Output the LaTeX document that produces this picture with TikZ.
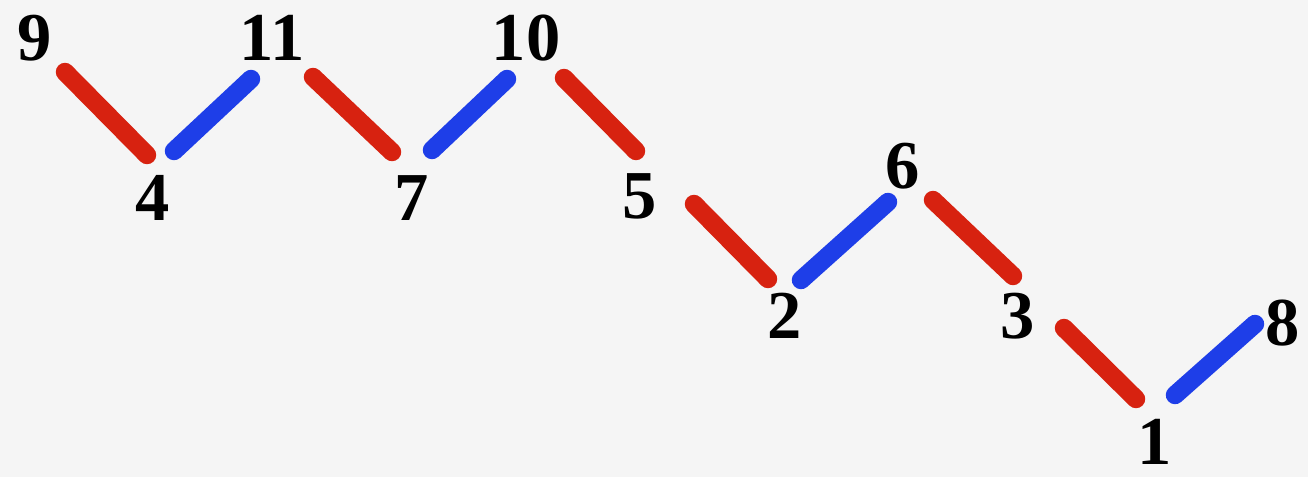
\documentclass[tikz,border=0pt]{standalone}
\usepackage{fontspec}
\setmainfont{Liberation Serif}
\usetikzlibrary{positioning}
\definecolor{BGgrey}{RGB}{245,245,245}
\definecolor{BARred}{RGB}{215,34,16}
\definecolor{BARblue}{RGB}{30,62,232}

\begin{document}
\begin{tikzpicture}[x=0.2mm,y=-0.2mm,
    num/.style={font=\fontsize{39}{40}\selectfont\bfseries,inner sep=0pt},
    redbar/.style={BARred,line width=10.5pt,line cap=round},
    bluebar/.style={BARblue,line width=10.5pt,line cap=round}]
    \fill[BGgrey] (0,0) rectangle (1308,477);
    % labels
    \node[num] (n9) at (35,38) {9};
    \node[num] (n4) at (153,198) {4};
    \node[num] (n11) at (272,38) {11};
    \node[num] (n7) at (412,198) {7};
    \node[num] (n10) at (526,38) {10};
    \node[num] (n5) at (640,196) {5};
    \node[num] (n2) at (785,316) {2};
    \node[num] (n6) at (903,166) {6};
    \node[num] (n3) at (1018,316) {3};
    \node[num] (n1) at (1155,442) {1};
    \node[num] (n8) at (1283,323) {8};
    % descents
    \foreach \s/\xa/\ya/\xb/\yb in {da/65/72/147/155,db/313/77/392/152,dc/564/78/636/151,dd/694/204/768/279,de/933/200/1013/276,df/1064/328/1136/399}{
      \coordinate (\s-top) at (\xa,\ya);
      \coordinate (\s-bot) at (\xb,\yb);
      \draw[redbar] (\s-top)--(\s-bot);
    }
    % ascents
    \foreach \s/\xa/\ya/\xb/\yb in {ua/174/151/251/79,ub/432/150/507/79,uc/801/280/888/202,ud/1175/395/1255/324}{
      \coordinate (\s-bot) at (\xa,\ya);
      \coordinate (\s-top) at (\xb,\yb);
      \draw[bluebar] (\s-bot)--(\s-top);
    }
\end{tikzpicture}
\end{document}
